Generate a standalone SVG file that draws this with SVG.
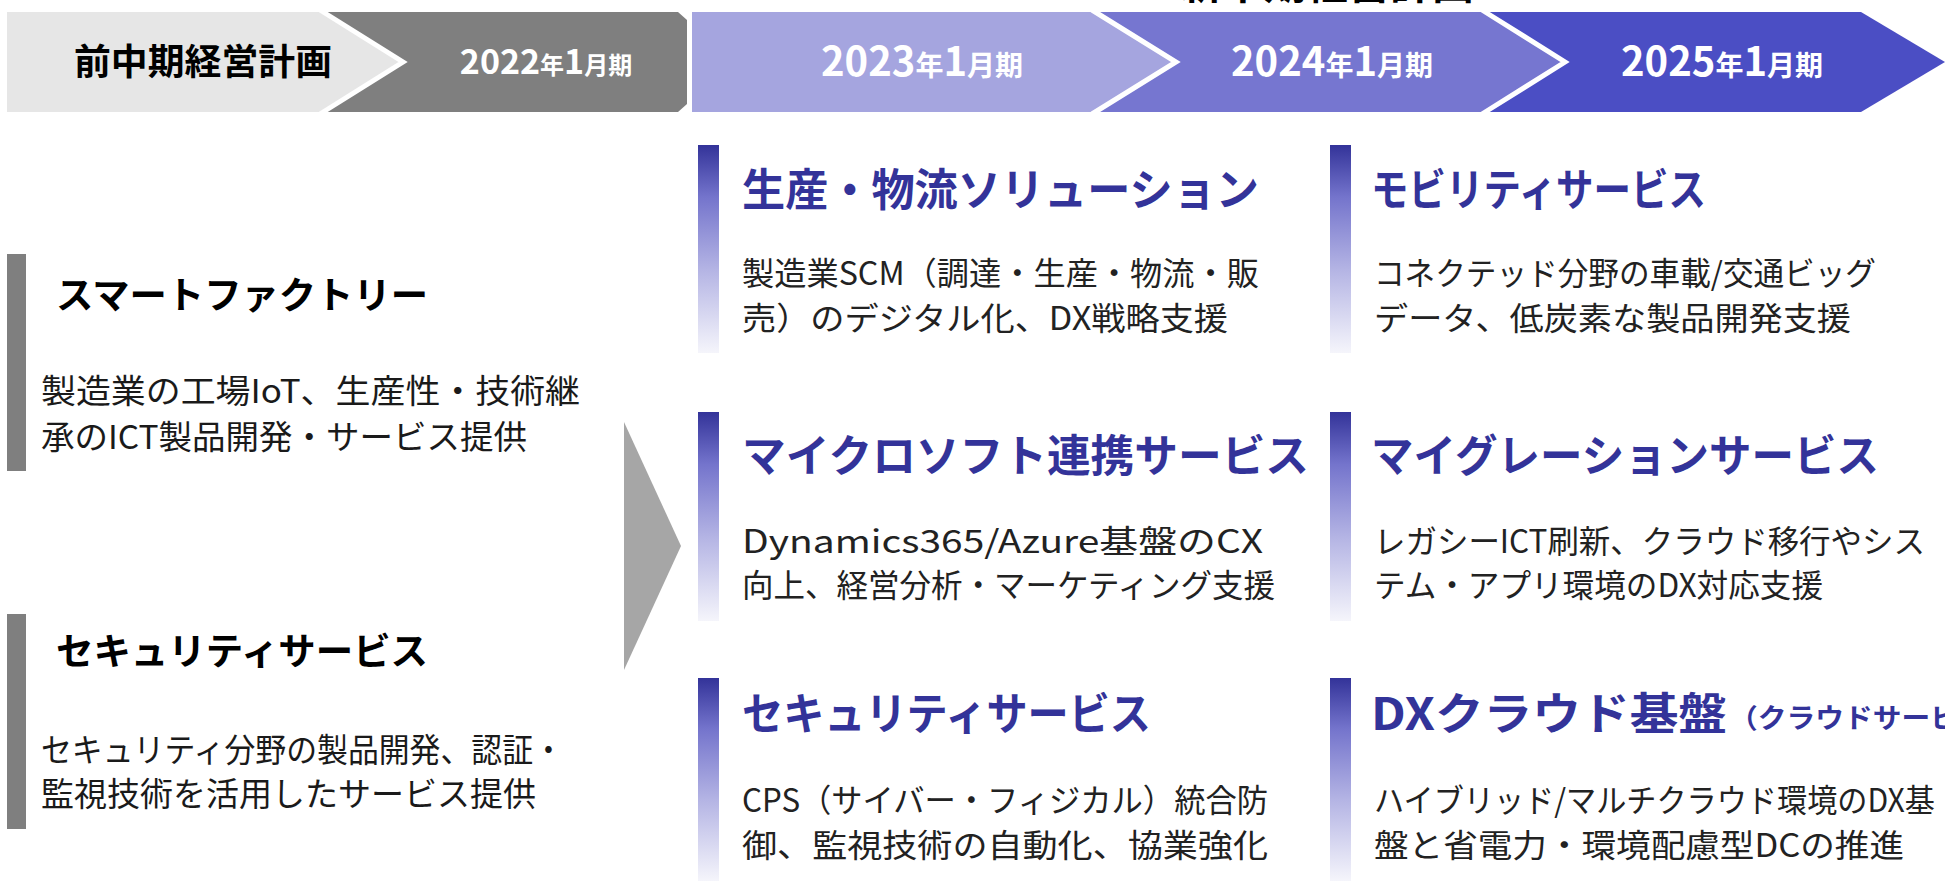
<svg xmlns="http://www.w3.org/2000/svg" width="1945" height="881" viewBox="0 0 1945 881">
<defs>
<linearGradient id="barGrad" x1="0" y1="0" x2="0" y2="1">
<stop offset="0" stop-color="#333399"/>
<stop offset="0.25" stop-color="#7474cc"/>
<stop offset="0.6" stop-color="#b4b4e4"/>
<stop offset="1" stop-color="#f5f5fb"/>
</linearGradient>
<style>
.jp{font-family:"Noto Sans CJK JP","Noto Sans",sans-serif}
.hd{font-weight:700;fill:#000}
.yr{font-weight:700;fill:#fff}
.ttl{font-weight:700;fill:#333399;font-size:44px}
.dsc{fill:#222;font-size:32px}
.ldsc{fill:#1a1a1a;font-size:33px}
.lttl{font-weight:700;fill:#000;font-size:37px}
.sep{fill:none;stroke:#fff;stroke-width:5;stroke-linejoin:miter}
.gbar{fill:#7f7f7f}
.pbar{fill:url(#barGrad)}
</style>
</defs>
<rect width="1945" height="881" fill="#fff"/>

<text class="jp hd" x="1327" y="-1" font-size="42" text-anchor="middle">新中期経営計画</text>

<g id="timeline">
<g id="y2025">
<polygon points="1400,12 1861,12 1945,62 1861,112 1400,112" fill="#4b4ec4"/>
<text class="jp yr" x="1722" y="76" text-anchor="middle"><tspan font-size="40">2025</tspan><tspan font-size="28">年</tspan><tspan font-size="40">1</tspan><tspan font-size="28">月期</tspan></text>
</g>
<g id="y2024">
<polygon points="1080,12 1482,12 1565,62 1482,112 1080,112" fill="#7676d0"/>
<polyline class="sep" points="1482,10 1565,62 1482,114"/>
<text class="jp yr" x="1332" y="76" text-anchor="middle"><tspan font-size="40">2024</tspan><tspan font-size="28">年</tspan><tspan font-size="40">1</tspan><tspan font-size="28">月期</tspan></text>
</g>
<g id="y2023">
<polygon points="692,12 1092,12 1176,62 1092,112 692,112" fill="#a5a5df"/>
<polyline class="sep" points="1092,10 1176,62 1092,114"/>
<text class="jp yr" x="922" y="76" text-anchor="middle"><tspan font-size="40">2023</tspan><tspan font-size="28">年</tspan><tspan font-size="40">1</tspan><tspan font-size="28">月期</tspan></text>
</g>
<g id="y2022">
<polygon points="318,12 678,12 687,20 687,104 678,112 318,112" fill="#7f7f7f"/>
<text class="jp yr" x="546" y="74" text-anchor="middle"><tspan font-size="34">2022</tspan><tspan font-size="24">年</tspan><tspan font-size="34">1</tspan><tspan font-size="24">月期</tspan></text>
</g>
<g id="prevplan">
<polygon points="7,12 320,12 403,62 320,112 7,112" fill="#e6e6e6"/>
<polyline class="sep" points="320,10 403,62 320,114"/>
<text class="jp hd" x="74" y="75" font-size="36" textLength="258" lengthAdjust="spacingAndGlyphs">前中期経営計画</text>
</g>
</g>

<g id="left-smartfactory">
<rect class="gbar" x="7" y="254" width="19" height="217"/>
<text class="jp lttl" x="56" y="309" textLength="372" lengthAdjust="spacingAndGlyphs">スマートファクトリー</text>
<text class="jp ldsc" x="41" y="403" textLength="539" lengthAdjust="spacingAndGlyphs">製造業の工場IoT、生産性・技術継</text>
<text class="jp ldsc" x="41" y="449" textLength="486" lengthAdjust="spacingAndGlyphs">承のICT製品開発・サービス提供</text>
</g>

<g id="left-security">
<rect class="gbar" x="7" y="614" width="19" height="215"/>
<text class="jp lttl" x="56" y="665" textLength="372" lengthAdjust="spacingAndGlyphs">セキュリティサービス</text>
<text class="jp ldsc" x="41" y="762" textLength="523" lengthAdjust="spacingAndGlyphs">セキュリティ分野の製品開発、認証・</text>
<text class="jp ldsc" x="41" y="806" textLength="495" lengthAdjust="spacingAndGlyphs">監視技術を活用したサービス提供</text>
</g>

<g id="connectors">
<polygon id="big-arrow" points="624,422 681,546 624,670" fill="#a6a6a6"/>
</g>

<g id="svc-production">
<rect class="pbar" x="698" y="145" width="21" height="208"/>
<text class="jp ttl" x="742" y="206" textLength="517" lengthAdjust="spacingAndGlyphs">生産・物流ソリューション</text>
<text class="jp dsc" x="742" y="285" textLength="517" lengthAdjust="spacingAndGlyphs">製造業SCM（調達・生産・物流・販</text>
<text class="jp dsc" x="742" y="330" textLength="486" lengthAdjust="spacingAndGlyphs">売）のデジタル化、DX戦略支援</text>
</g>

<g id="svc-mobility">
<rect class="pbar" x="1330" y="145" width="21" height="208"/>
<text class="jp ttl" x="1371" y="206" textLength="335" lengthAdjust="spacingAndGlyphs">モビリティサービス</text>
<text class="jp dsc" x="1374" y="285" textLength="502" lengthAdjust="spacingAndGlyphs">コネクテッド分野の車載/交通ビッグ</text>
<text class="jp dsc" x="1374" y="330" textLength="477" lengthAdjust="spacingAndGlyphs">データ、低炭素な製品開発支援</text>
</g>

<g id="svc-microsoft">
<rect class="pbar" x="698" y="412" width="21" height="209"/>
<text class="jp ttl" x="742" y="472" textLength="567" lengthAdjust="spacingAndGlyphs">マイクロソフト連携サービス</text>
<text class="jp dsc" x="742" y="553" textLength="521" lengthAdjust="spacingAndGlyphs">Dynamics365/Azure基盤のCX</text>
<text class="jp dsc" x="742" y="597" textLength="533" lengthAdjust="spacingAndGlyphs">向上、経営分析・マーケティング支援</text>
</g>

<g id="svc-migration">
<rect class="pbar" x="1330" y="412" width="21" height="209"/>
<text class="jp ttl" x="1371" y="472" textLength="508" lengthAdjust="spacingAndGlyphs">マイグレーションサービス</text>
<text class="jp dsc" x="1374" y="553" textLength="551" lengthAdjust="spacingAndGlyphs">レガシーICT刷新、クラウド移行やシス</text>
<text class="jp dsc" x="1374" y="597" textLength="449" lengthAdjust="spacingAndGlyphs">テム・アプリ環境のDX対応支援</text>
</g>

<g id="svc-security">
<rect class="pbar" x="698" y="678" width="21" height="203"/>
<text class="jp ttl" x="742" y="730" textLength="409" lengthAdjust="spacingAndGlyphs">セキュリティサービス</text>
<text class="jp dsc" x="742" y="812" textLength="526" lengthAdjust="spacingAndGlyphs">CPS（サイバー・フィジカル）統合防</text>
<text class="jp dsc" x="742" y="857" textLength="526" lengthAdjust="spacingAndGlyphs">御、監視技術の自動化、協業強化</text>
</g>

<g id="svc-dxcloud">
<rect class="pbar" x="1330" y="678" width="21" height="203"/>
<text class="jp ttl" x="1371" y="730" textLength="356" lengthAdjust="spacingAndGlyphs">DXクラウド基盤</text>
<text class="jp" x="1729" y="728" font-size="27" font-weight="700" fill="#333399" textLength="230" lengthAdjust="spacingAndGlyphs">（クラウドサービ</text>
<text class="jp dsc" x="1374" y="812" textLength="561" lengthAdjust="spacingAndGlyphs">ハイブリッド/マルチクラウド環境のDX基</text>
<text class="jp dsc" x="1374" y="857" textLength="530" lengthAdjust="spacingAndGlyphs">盤と省電力・環境配慮型DCの推進</text>
</g>
</svg>
